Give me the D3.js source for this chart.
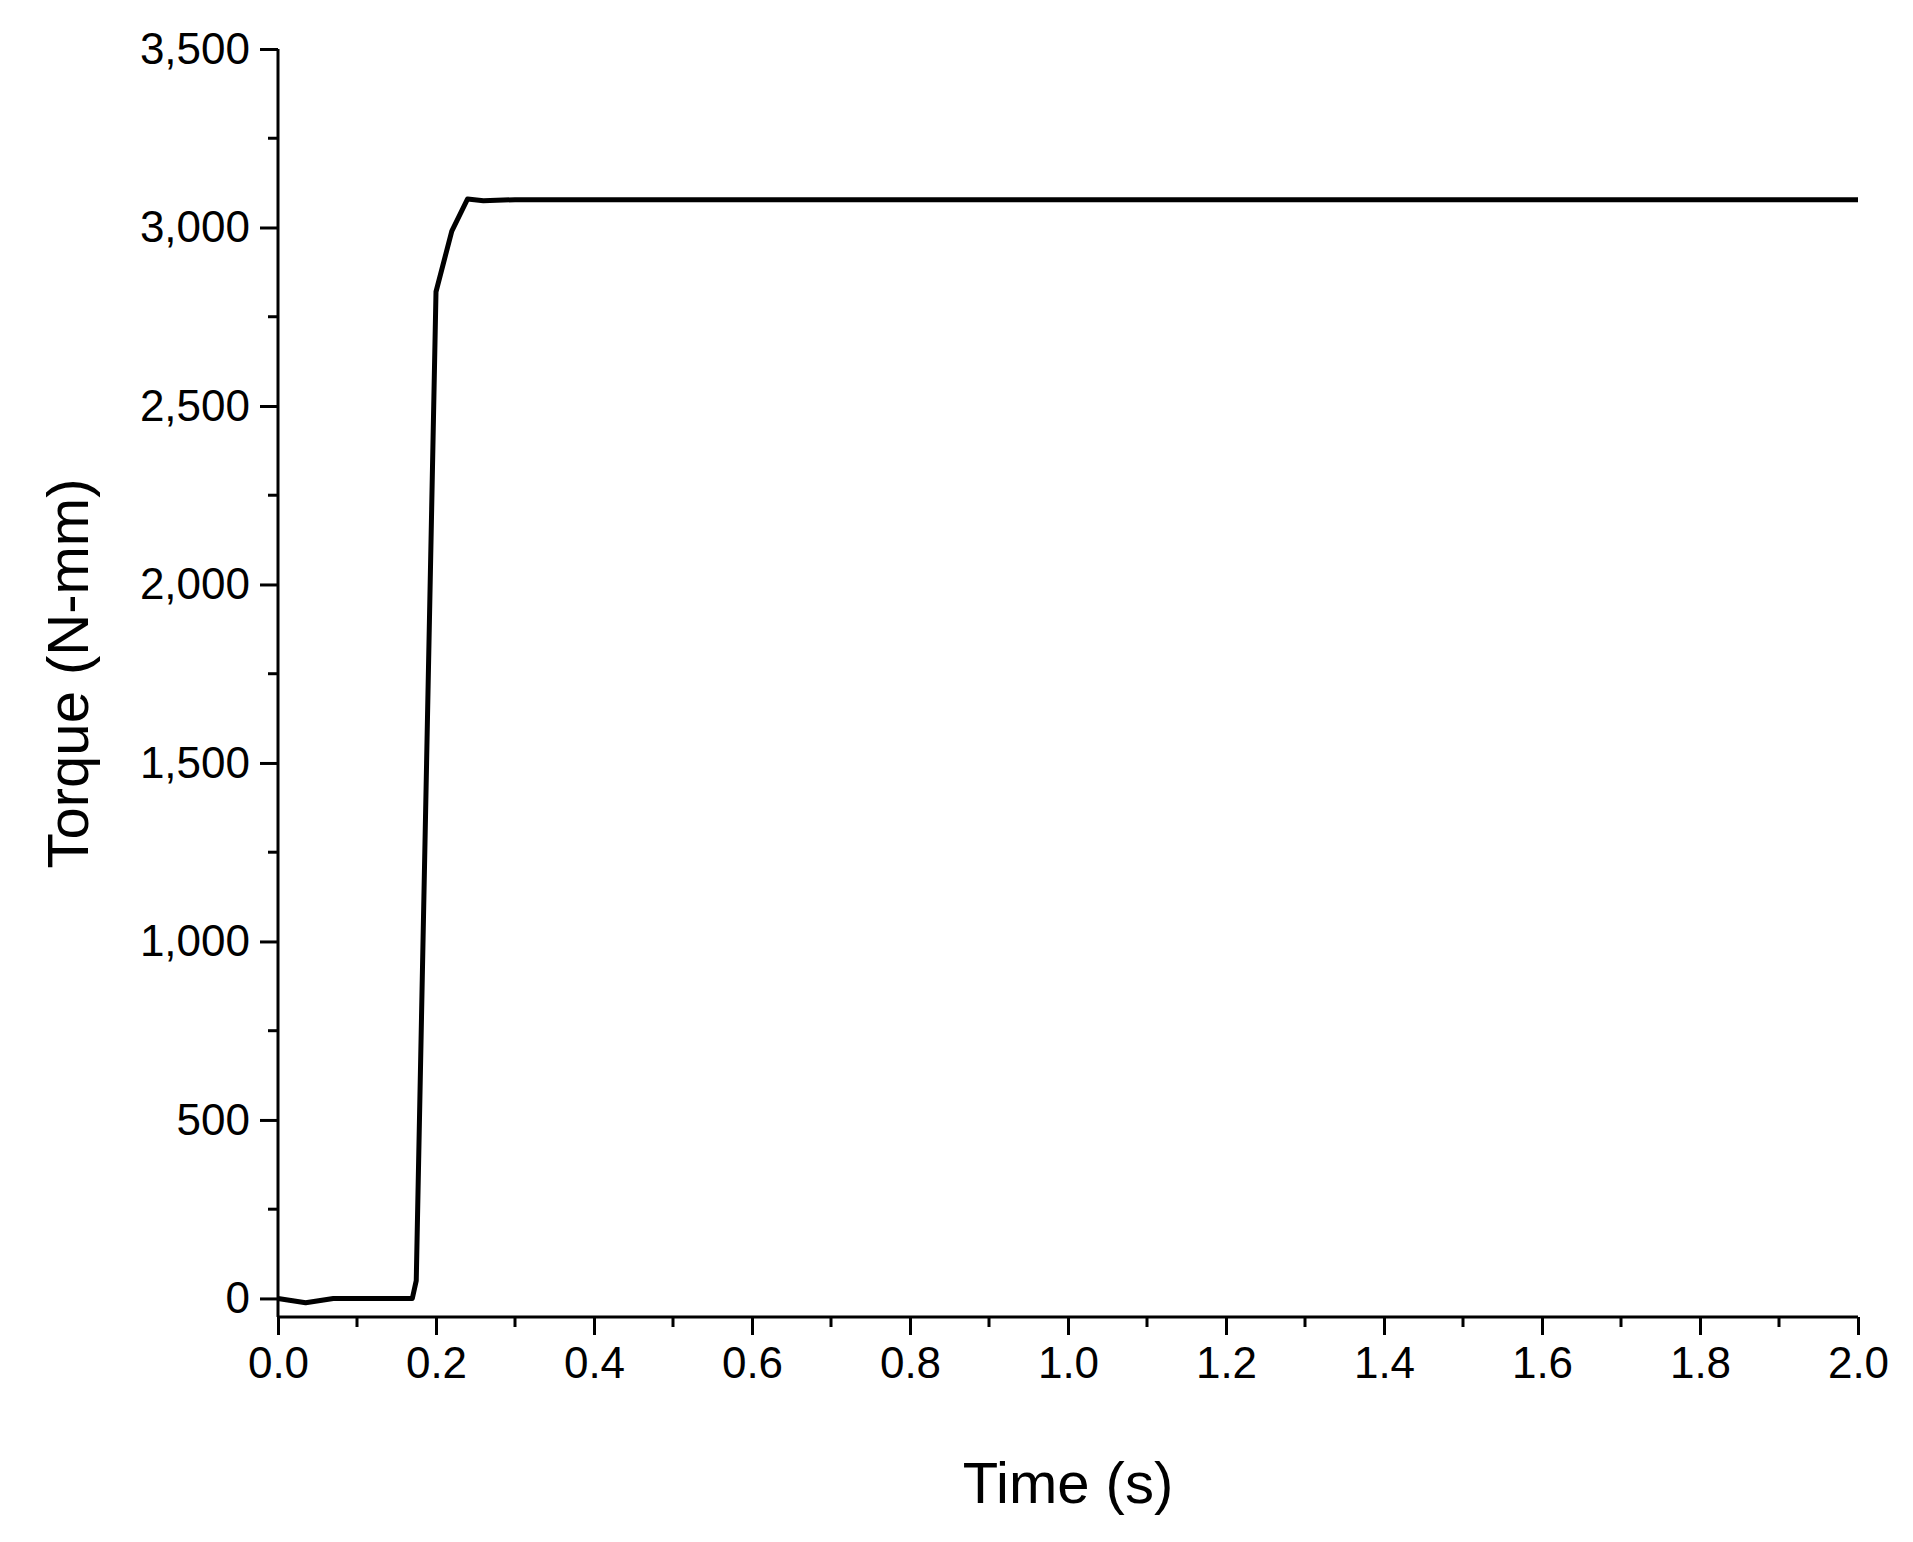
<!DOCTYPE html><html><head><meta charset="utf-8"><script src="https://cdn.jsdelivr.net/npm/d3@7"></script>
<style>body{margin:0;background:#fff}text{font-family:"Liberation Sans",Arial,sans-serif}</style></head><body>
<svg id="c" width="1913" height="1542"></svg>
<script>
const time = [0, 0.035, 0.07, 0.17, 0.175, 0.2, 0.22, 0.24, 0.26, 0.3, 1.0, 2.0];
const torque = [0, -12, 0, 0, 50, 2820, 2990, 3080, 3075, 3078, 3078, 3078];
const xTicks = [0,0.2,0.4,0.6,0.8,1.0,1.2,1.4,1.6,1.8,2.0];
const yTicks = [0,500,1000,1500,2000,2500,3000,3500];
const svg = d3.select("#c");
const L=278,R=1858,T=49,B=1317;
const x = d3.scaleLinear().domain([0,2]).range([L,R]);
const y = d3.scaleLinear().domain([-52,3500]).range([B,T]);
const g = svg.append("g");
// minor ticks
const xm = d3.range(0.1,2,0.2);
g.selectAll(".xm").data(xm).enter().append("line").attr("x1",d=>x(d)).attr("x2",d=>x(d)).attr("y1",B).attr("y2",B+10).attr("stroke","#000").attr("stroke-width",3);
const ym = d3.range(250,3500,500);
g.selectAll(".ym").data(ym).enter().append("line").attr("y1",d=>y(d)).attr("y2",d=>y(d)).attr("x1",L).attr("x2",L-10).attr("stroke","#000").attr("stroke-width",3);
const xa = svg.append("g").attr("transform",`translate(0,${B})`).call(d3.axisBottom(x).tickValues(xTicks).tickFormat(d3.format(".1f")).tickSize(18).tickSizeOuter(0).tickPadding(12));
const ya = svg.append("g").attr("transform",`translate(${L},0)`).call(d3.axisLeft(y).tickValues(yTicks).tickSize(18).tickSizeOuter(0).tickPadding(10));
[xa,ya].forEach(a=>{a.selectAll("path,line").attr("stroke","#000").attr("stroke-width",3);a.selectAll("text").attr("font-size",44).attr("fill","#000").attr("font-family","Liberation Sans, Arial, sans-serif");});
ya.select(".domain").attr("d",`M0,${B}V${T}`);
xa.select(".domain").attr("d",`M${L},0H${R}`);
svg.append("path").datum(time.map((t,i)=>[t,torque[i]])).attr("fill","none").attr("stroke","#000").attr("stroke-width",5).attr("stroke-linejoin","round")
 .attr("d",d3.line().x(d=>x(d[0])).y(d=>y(d[1])));
svg.append("text").attr("x",(L+R)/2).attr("y",1503).attr("text-anchor","middle").attr("font-size",58).text("Time (s)");
svg.append("text").attr("transform",`translate(88,${(T+1298)/2}) rotate(-90)`).attr("text-anchor","middle").attr("font-size",58).text("Torque (N-mm)");
</script></body></html>
